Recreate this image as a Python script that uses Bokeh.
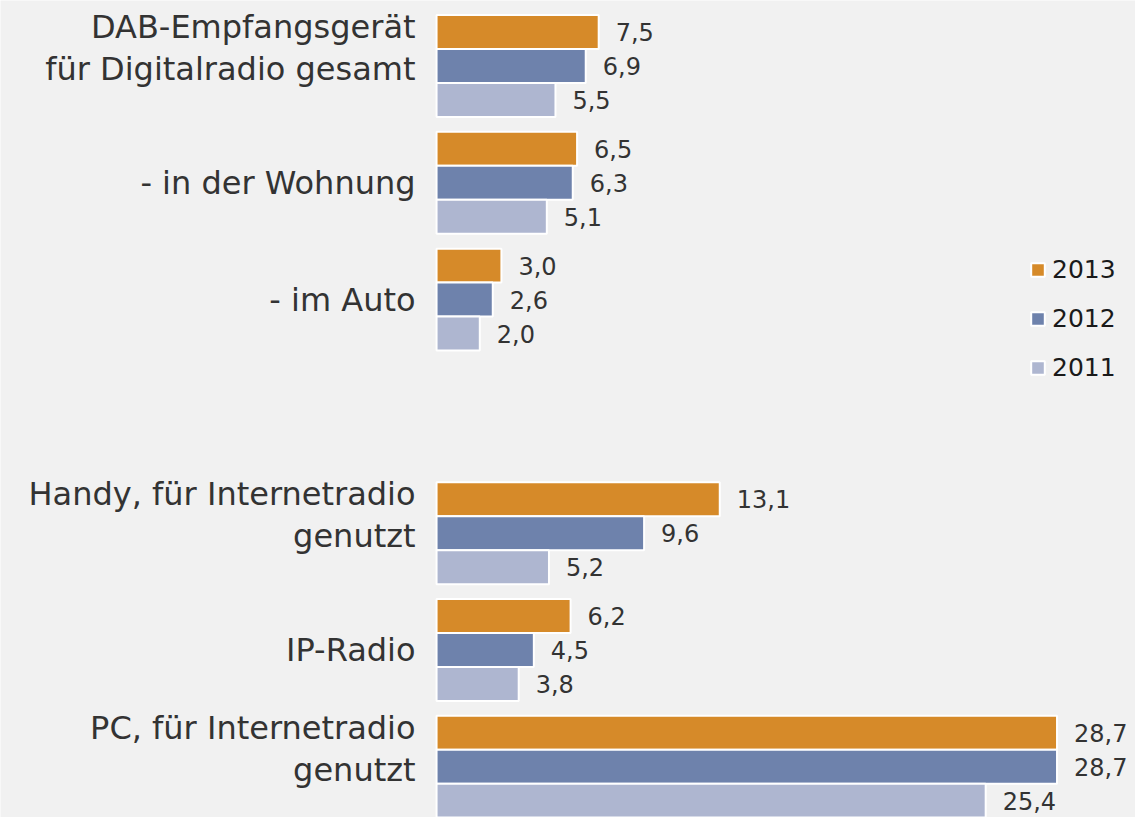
from bokeh.plotting import figure
from bokeh.models import Range1d, ColumnDataSource, Legend, LegendItem
from bokeh.core.properties import value
from bokeh.embed import file_html
from bokeh.resources import INLINE

# ---- data ----
categories = [
    "DAB-Empfangsgerät\nfür Digitalradio gesamt",
    "- in der Wohnung",
    "- im Auto",
    "Handy, für Internetradio\ngenutzt",
    "IP-Radio",
    "PC, für Internetradio\ngenutzt",
]
sections = [0, 0, 0, 1, 1, 1]
years = ["2013", "2012", "2011"]
values_2013 = [7.5, 6.5, 3.0, 13.1, 6.2, 28.7]
values_2012 = [6.9, 6.3, 2.6, 9.6, 4.5, 28.7]
values_2011 = [5.5, 5.1, 2.0, 5.2, 3.8, 25.4]

colors = ["#d68a29", "#6e82ac", "#aeb6d0"]
BG = "#f1f1f1"
TEXT = "#333333"
FONT = "DejaVu Sans"

W, H = 1135, 817
slots = [i + s for i, s in enumerate(sections)]  # blank slot between the sections
bar_h = 0.291

p = figure(width=W, height=H, output_backend="svg", toolbar_location=None,
           x_range=Range1d(-20.17, 32.33), y_range=Range1d(6.434, -0.561),
           min_border=0, background_fill_color=BG, border_fill_color=BG,
           outline_line_color=None)
p.xaxis.visible = False
p.yaxis.visible = False
p.grid.visible = False

renderers = []
for k, (yr, vals, col) in enumerate(zip(years, [values_2013, values_2012, values_2011], colors)):
    off = (k - 1) * bar_h
    src = ColumnDataSource(dict(
        y=[s + off for s in slots],
        v=vals,
        lab=[f"{v:.1f}".replace(".", ",") for v in vals],
    ))
    r = p.hbar(y="y", left=0, right="v", height=bar_h, source=src,
               fill_color=col, line_color="white", line_width=2)
    renderers.append(r)
    p.text(x="v", y="y", text="lab", source=src, x_offset=17,
           text_align="left", text_baseline="middle",
           text_font=value(FONT), text_font_size="24px", text_color=TEXT)

# category labels
lab_src = ColumnDataSource(dict(
    x=[0] * len(categories),
    y=slots,
    t=categories,
    yo=[-18 if "\n" in c else 0 for c in categories],
))
p.text(x="x", y="y", text="t", source=lab_src, x_offset=-21, y_offset="yo",
       text_align="right", text_baseline="middle", text_line_height=1.12,
       text_font=value(FONT), text_font_size="32px", text_color=TEXT)

legend = Legend(items=[LegendItem(label=yr, renderers=[r]) for yr, r in zip(years, renderers)],
                location=(1029, 435), glyph_width=17, glyph_height=17,
                label_text_font=FONT, label_text_font_size="25px",
                label_text_color="#1a1a1a", label_standoff=6, spacing=20,
                padding=0, margin=0, border_line_color=None,
                background_fill_alpha=0)
p.add_layout(legend, "center")

open("out.html", "w").write(file_html(p, INLINE))
